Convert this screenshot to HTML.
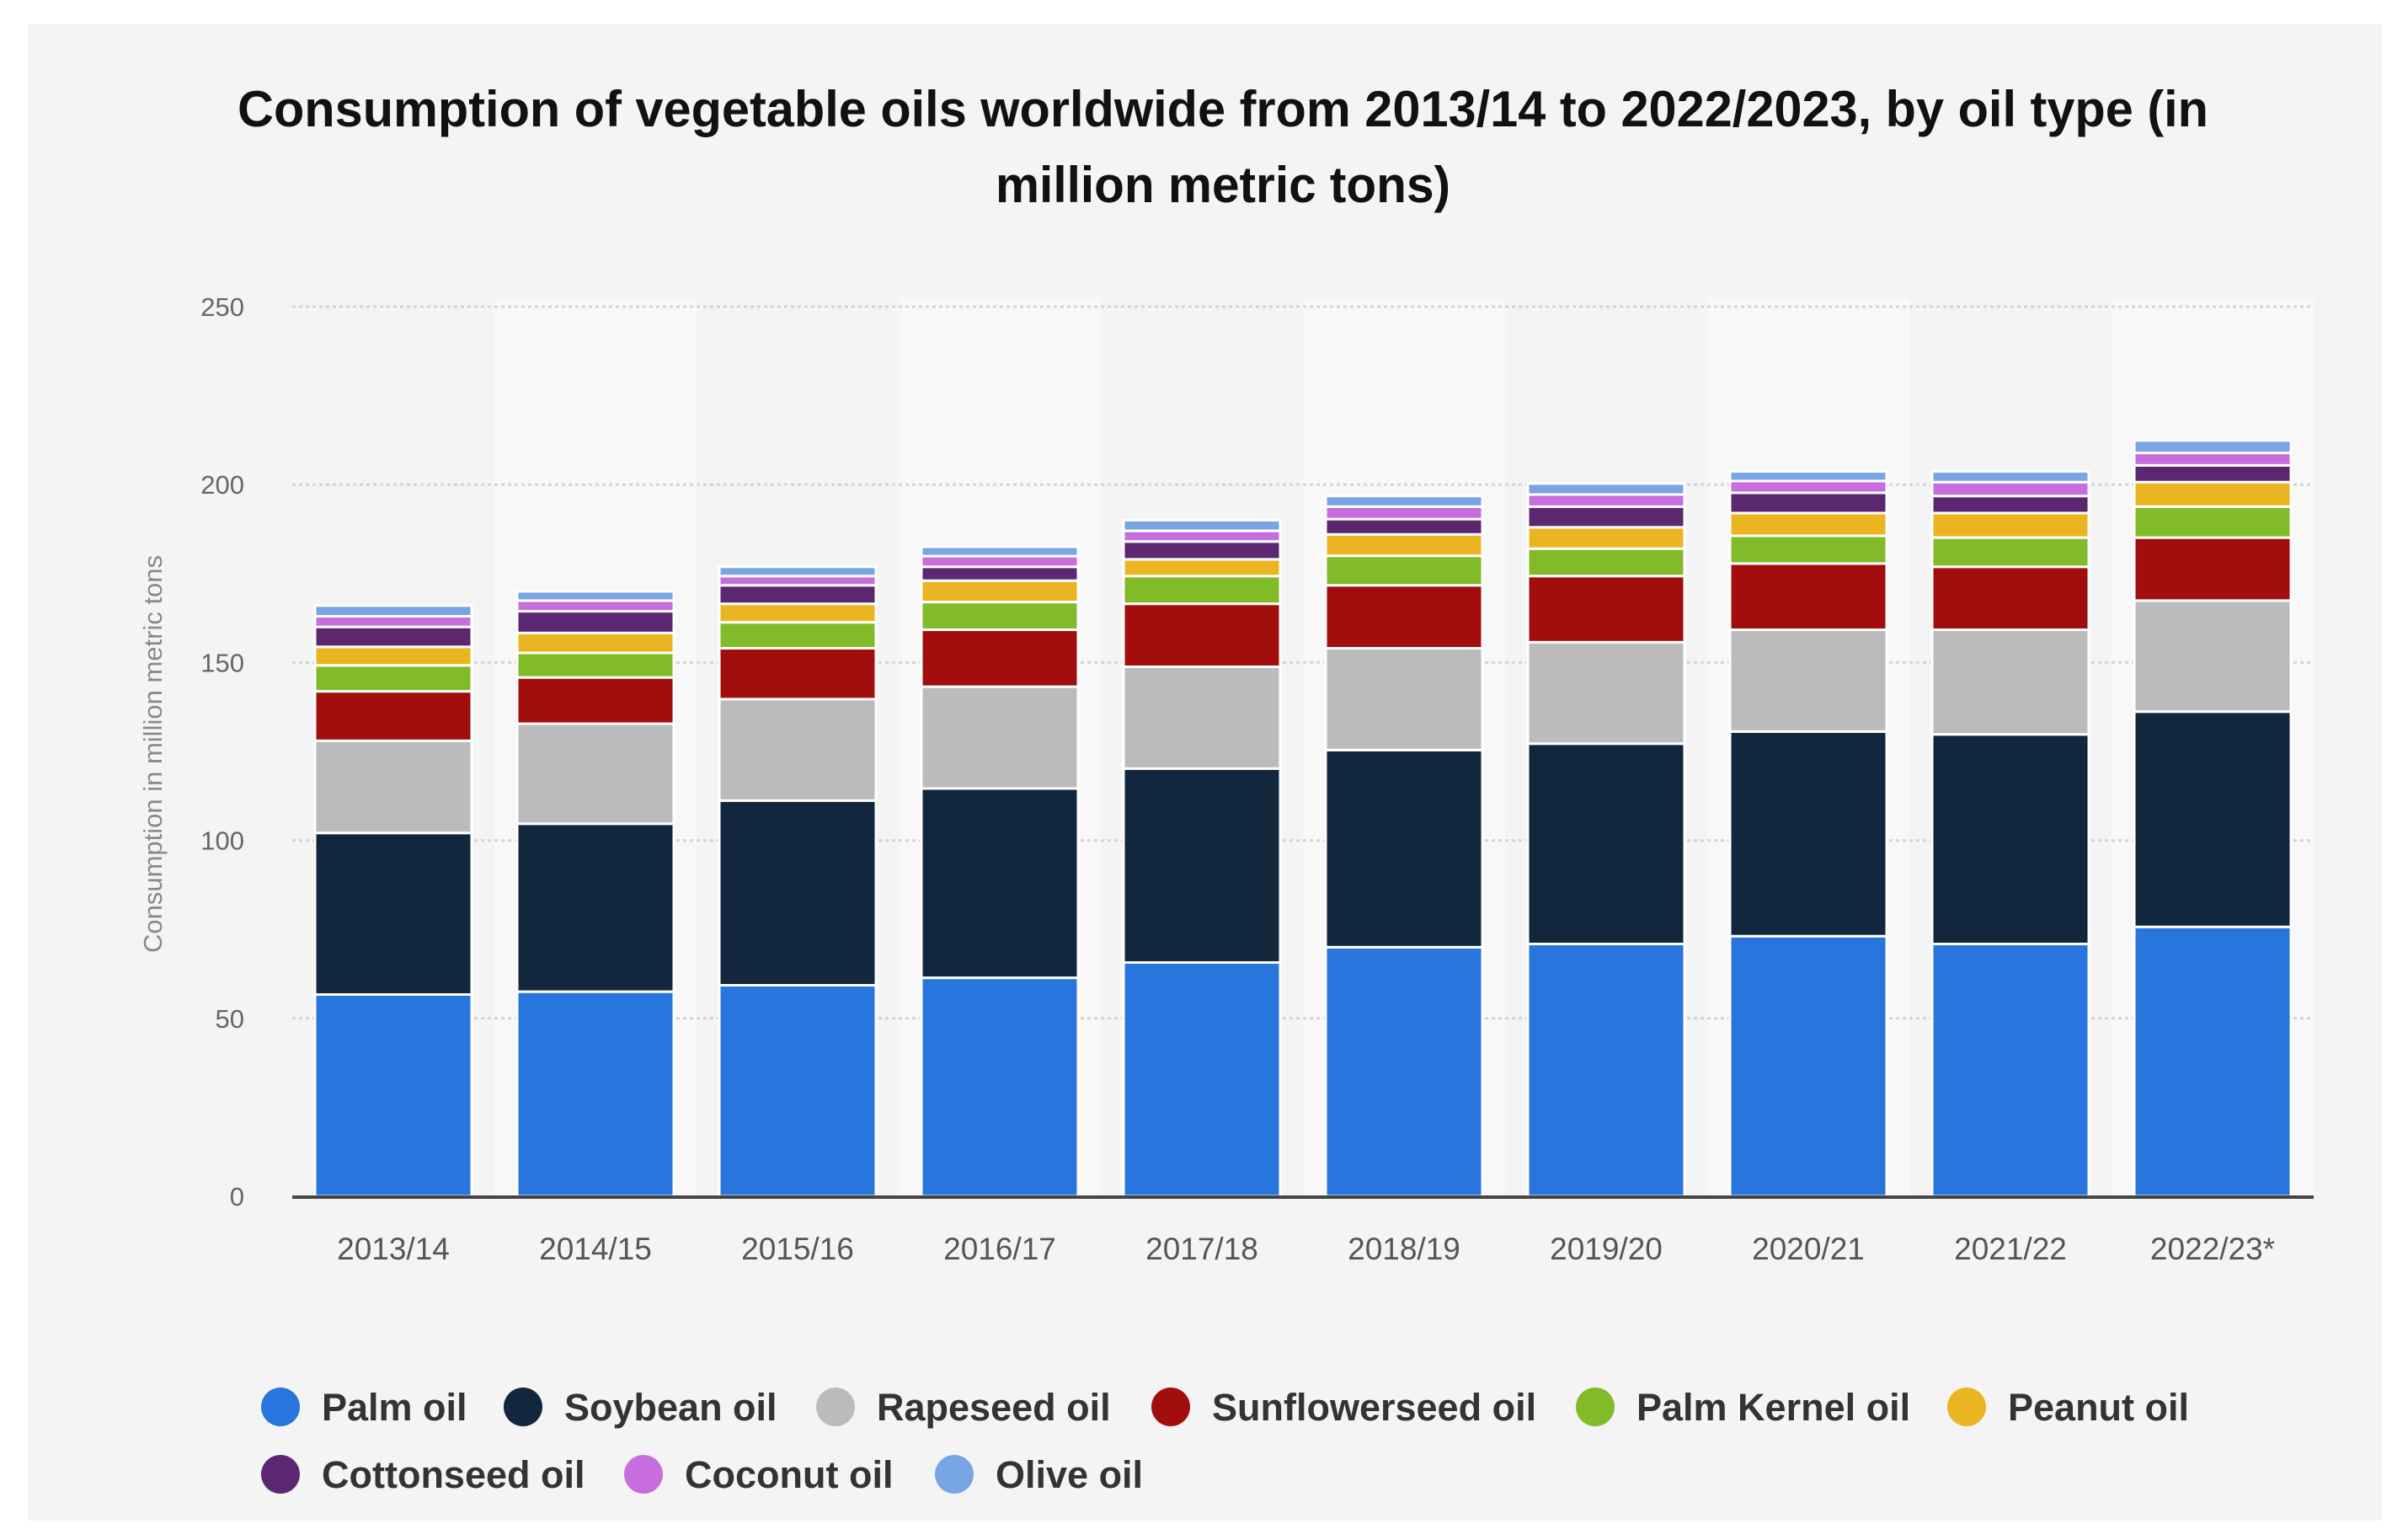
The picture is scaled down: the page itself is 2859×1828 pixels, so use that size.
<!DOCTYPE html>
<html><head><meta charset="utf-8"><style>
html,body{margin:0;padding:0;background:#fff;}
svg{display:block;font-family:"Liberation Sans",Arial,sans-serif;}
</style></head><body>
<svg id="chart" width="2859" height="1828" viewBox="0 0 2859 1828">
<rect x="33" y="29" width="2795" height="1776" fill="#f4f4f4"/>
<text x="1452" y="150" text-anchor="middle" font-size="60" font-weight="bold" fill="#111" textLength="2340" lengthAdjust="spacingAndGlyphs">Consumption of vegetable oils worldwide from 2013/14 to 2022/2023, by oil type (in</text>
<text x="1452" y="240" text-anchor="middle" font-size="60" font-weight="bold" fill="#111" textLength="540" lengthAdjust="spacingAndGlyphs">million metric tons)</text>
<text transform="translate(192,895) rotate(-90)" text-anchor="middle" font-size="31" fill="#888">Consumption in million metric tons</text>
<g id="bands"></g><g id="grid"></g><g id="bars"></g><g id="axis"></g><g id="legend"></g>
</svg>
<script>
const categories=["2013/14","2014/15","2015/16","2016/17","2017/18","2018/19","2019/20","2020/21","2021/22","2022/23*"];
const seriesNames=["Palm oil","Soybean oil","Rapeseed oil","Sunflowerseed oil","Palm Kernel oil","Peanut oil","Cottonseed oil","Coconut oil","Olive oil"];
const seriesColors=["#2876dd","#12263d","#bbbbbb","#a20d0d","#81bb28","#ebb522","#5b2770","#c76ddd","#78a5e3"];
const palm=[56.7,57.5,59.3,61.4,65.7,70.0,70.9,73.1,70.9,75.7];
const soybean=[45.4,47.2,51.9,53.2,54.5,55.4,56.3,57.5,58.9,60.5];
const rapeseed=[25.9,28.1,28.5,28.6,28.6,28.6,28.5,28.6,29.4,31.2];
const sunflower=[13.9,13.0,14.3,16.0,17.7,17.7,18.6,18.6,17.7,17.7];
const palmKernel=[7.3,6.9,7.3,7.8,7.8,8.3,7.7,7.8,8.2,8.7];
const peanut=[5.2,5.6,5.2,6.0,4.7,6.0,6.0,6.4,6.9,6.9];
const cottonseed=[5.6,6.1,5.2,3.9,5.0,4.3,5.8,5.7,4.8,4.7];
const coconut=[3.0,3.0,2.6,3.0,3.0,3.5,3.4,3.3,3.9,3.5];
const olive=[3.0,2.6,2.6,2.6,3.0,3.0,3.1,2.7,3.0,3.5];
const yTicks=[0,50,100,150,200,250];

const series=[palm,soybean,rapeseed,sunflower,palmKernel,peanut,cottonseed,coconut,olive];
const NS="http://www.w3.org/2000/svg";
const plotL=347,plotR=2747,y0=1420,yMax=250,yTop=364;
const band=(plotR-plotL)/categories.length, barW=186;
const y=v=>y0-(v/yMax)*(y0-yTop);
const xC=i=>plotL+band*(i+0.5);
function mk(tag,attrs,parent){const e=document.createElementNS(NS,tag);for(const k in attrs)e.setAttribute(k,attrs[k]);parent.appendChild(e);return e;}
const gB=document.getElementById('bands'),gG=document.getElementById('grid'),gBar=document.getElementById('bars'),gA=document.getElementById('axis'),gL=document.getElementById('legend');
categories.forEach((c,i)=>{if(i%2===1){const r=mk('rect',{x:plotL+band*i,y:yTop-10,width:band,height:y0-yTop+10,fill:'#f8f8f8'},gB);

}});
yTicks.forEach(t=>{
 if(t>0){const l=mk('line',{x1:plotL,x2:plotR,y1:y(t),y2:y(t),stroke:'#d4d4d4','stroke-width':3,'stroke-dasharray':'4 4'},gG);
 
 }
 const tx=mk('text',{x:290,y:y(t)+11,'text-anchor':'end','font-size':31,fill:'#666'},gA);tx.textContent=t;
 
 
});
categories.forEach((c,i)=>{
 let acc=0;
 series.forEach((s,k)=>{
  const v=s[i];const top=y(acc+v),bot=y(acc);
  const r=mk('rect',{x:xC(i)-barW/2,y:top,width:barW,height:Math.max(0,bot-top),fill:seriesColors[k],stroke:'#fff','stroke-width':3},gBar);
  
  
  acc+=v;
 });
 const t=mk('text',{x:xC(i),y:1495,'text-anchor':'middle','font-size':37,fill:'#555'},gA);t.textContent=c;
 
 
});
const ax=mk('line',{x1:plotL,x2:plotR,y1:y0+1,y2:y0+1,stroke:'#444','stroke-width':4},gA);


const legX=[333,621,992,1390,1894,2335,333,764,1133];
const legY=[1670,1670,1670,1670,1670,1670,1750,1750,1750];
seriesNames.forEach((n,k)=>{
 const g=mk('g',{},gL);
 
 
 mk('circle',{cx:legX[k],cy:legY[k],r:23,fill:seriesColors[k]},g);
 const t=mk('text',{x:legX[k]+49,y:legY[k]+16,'font-size':45,'font-weight':'bold',fill:'#333'},g);t.textContent=n;
});
</script>
</body></html>
